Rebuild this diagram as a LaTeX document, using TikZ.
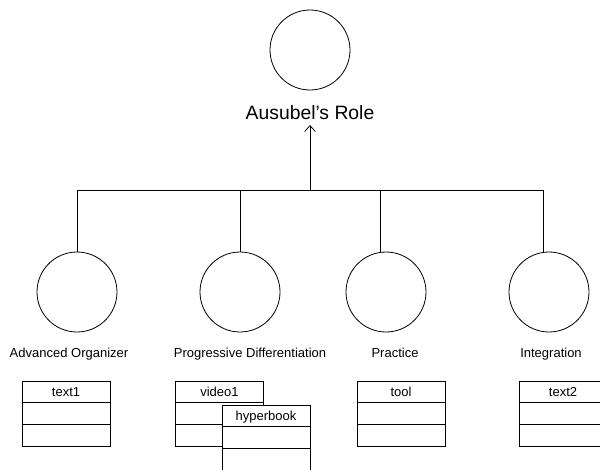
\documentclass[tikz,border=0pt]{standalone}
\usepackage{fontspec}
\setmainfont{Liberation Sans}
\usetikzlibrary{positioning,arrows.meta}
\begin{document}
\begin{tikzpicture}[x=0.75pt,y=-0.75pt,line width=0.6pt,
		bubble/.style={draw,circle,minimum size=60pt,inner sep=0pt},
		lbl/.style={anchor=base,font=\fontsize{9.75}{11}\selectfont},
		cell/.style={draw,fill=white,minimum width=66pt,minimum height=16.3pt,inner sep=0pt,outer sep=0pt,
			text height=9pt,text depth=1.8pt,font=\fontsize{9.75}{11}\selectfont}]
			\clip (0,0) rectangle (600,469);
			\node[bubble] (role) at (310,50) {};
			\node[font=\fontsize{14.5}{17}\selectfont] (rolelbl) at (310,113) {Ausubel's Role};
			\coordinate (bus) at (310,190);
			\coordinate (b1) at (77,190);
			\coordinate (b2) at (240,190);
			\coordinate (b3) at (380,190);
			\coordinate (b4) at (543,190);
			\draw (b1) -- (b4);
			\draw[-{Straight Barb[length=4.5pt,width=8pt]}] (bus) -- (rolelbl.south);
			\node[bubble] (adv) at (77,292) {};
			\node[bubble] (prog) at (240,292) {};
			\node[bubble] (prac) at (386,292) {};
			\node[bubble] (integ) at (549,292) {};
			\draw (b1) -- (b1 |- adv.north);
			\draw (b2) -- (b2 |- prog.north);
			\draw (b3) -- (b3 |- prac.north);
			\draw (b4) -- (b4 |- integ.north);
			\node[lbl] (advlbl) at (69,357) {Advanced Organizer};
			\node[lbl] (proglbl) at (250,357) {Progressive Differentiation};
			\node[lbl] (praclbl) at (395,357) {Practice};
			\node[lbl] (integlbl) at (551,357) {Integration};
			\node[cell] (text1) at (66,392) {text1};
			\node[cell,below=0pt of text1] (text1b) {};
			\node[cell,below=0pt of text1b] (text1c) {};
			\node[cell] (video1) at (219.5,392) {video1};
			\node[cell,below=0pt of video1] (video1b) {};
			\node[cell,below=0pt of video1b] (video1c) {};
			\node[cell] (hyper) at (266,416) {hyperbook};
			\node[cell,below=0pt of hyper] (hyperb) {};
			\node[cell,below=0pt of hyperb] (hyperc) {};
			\node[cell] (tool) at (401,392) {tool};
			\node[cell,below=0pt of tool] (toolb) {};
			\node[cell,below=0pt of toolb] (toolc) {};
			\node[cell] (text2) at (563,392) {text2};
			\node[cell,below=0pt of text2] (text2b) {};
			\node[cell,below=0pt of text2b] (text2c) {};
		\end{tikzpicture}
\end{document}
